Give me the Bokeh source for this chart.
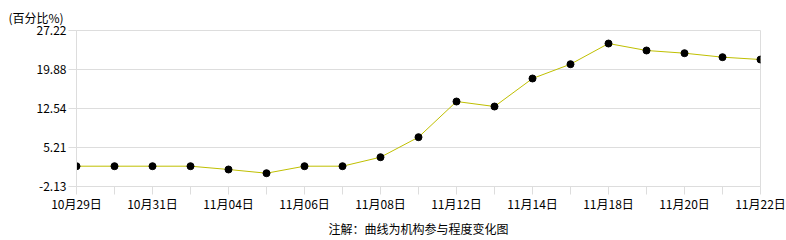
from bokeh.plotting import figure
from bokeh.models import Range1d, FixedTicker, Title
from bokeh.embed import file_html
from bokeh.resources import INLINE

dates = ["10月29日", "10月30日", "10月31日", "11月01日", "11月04日", "11月05日",
         "11月06日", "11月07日", "11月08日", "11月11日", "11月12日", "11月13日",
         "11月14日", "11月15日", "11月18日", "11月19日", "11月20日", "11月21日", "11月22日"]
values = [1.69, 1.69, 1.69, 1.69, 1.07, 0.37, 1.69, 1.69, 3.38, 7.15, 13.86, 12.92,
          18.19, 20.88, 24.77, 23.46, 22.95, 22.20, 21.76]
y_ticks = [-2.13, 5.21, 12.54, 19.88, 27.22]
y_tick_labels = ["-2.13", "5.21", "12.54", "19.88", "27.22"]
unit_label = "(百分比%)"
note = "注解：曲线为机构参与程度变化图"

FONT = "Noto Sans CJK SC"
GRID = "#dddddd"

xs = list(range(len(dates)))

p = figure(width=786, height=240, output_backend="svg", toolbar_location=None,
           x_range=Range1d(0, len(dates) - 1), y_range=Range1d(y_ticks[0], y_ticks[-1]),
           min_border_left=76, min_border_right=26, min_border_top=30, min_border_bottom=54)
p.outline_line_color = GRID
p.background_fill_color = "white"
p.border_fill_color = "white"

p.line(xs, values, line_color="#bfbf00", line_width=1)
p.scatter(xs, values, size=7, fill_color="black", line_color="black")

p.xgrid.visible = False
p.ygrid.grid_line_color = GRID
p.ygrid.ticker = FixedTicker(ticks=y_ticks)

xa = p.xaxis[0]
xa.ticker = FixedTicker(ticks=xs)
xa.major_label_overrides = {i: (d if i % 2 == 0 else "") for i, d in zip(xs, dates)}
xa.axis_line_color = GRID
xa.major_tick_line_color = GRID
xa.major_tick_in = 0
xa.major_tick_out = 8
xa.minor_tick_line_color = None
xa.major_label_standoff = 0
xa.major_label_text_font = FONT
xa.major_label_text_font_size = "12px"
xa.major_label_text_color = "black"

ya = p.yaxis[0]
ya.ticker = FixedTicker(ticks=y_ticks)
ya.major_label_overrides = {t: s for t, s in zip(y_ticks, y_tick_labels)}
ya.axis_line_color = GRID
ya.major_tick_line_color = GRID
ya.major_tick_in = 0
ya.major_tick_out = 8
ya.minor_tick_line_color = None
ya.major_label_standoff = 2
ya.major_label_text_font = FONT
ya.major_label_text_font_size = "12px"
ya.major_label_text_color = "black"

p.add_layout(Title(text=unit_label, align="left", offset=-68, standoff=10,
                   text_font=FONT, text_font_size="12px", text_font_style="normal",
                   text_color="black"), "above")
p.add_layout(Title(text=note, align="center", offset=-6, standoff=6,
                   text_font=FONT, text_font_size="12px", text_font_style="normal",
                   text_color="black"), "below")

open("out.html", "w").write(file_html(p, INLINE))
